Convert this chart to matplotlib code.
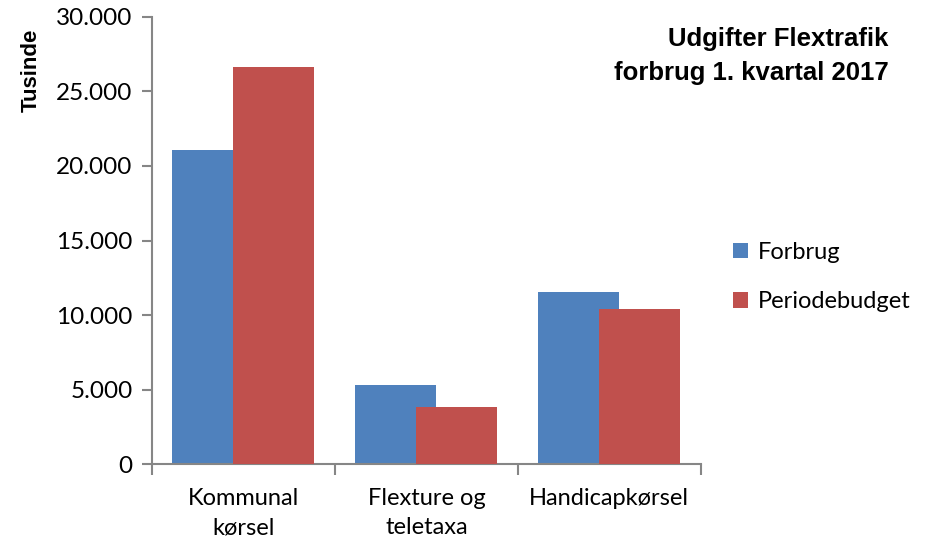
import matplotlib.pyplot as plt
import matplotlib.ticker as ticker
import numpy as np

categories = ["Kommunal\nkørsel", "Flexture og\nteletaxa", "Handicapkørsel"]
forbrug = [21100, 5340, 11550]
periodebudget = [26650, 3840, 10390]
series_names = ["Forbrug", "Periodebudget"]

blue = "#4F81BD"
red = "#C0504D"
axis_grey = "#868686"
tick_font = "Lato"

fig = plt.figure(figsize=(9.47, 5.48), dpi=100)
ax = fig.add_axes([0.1605, 0.1527, 0.5795, 0.8168])

x = np.arange(len(categories))
width = 0.443
shift = 0.333
ax.bar(x - shift / 2, forbrug, width, color=blue, label=series_names[0], zorder=2)
ax.bar(x + shift / 2, periodebudget, width, color=red, label=series_names[1], zorder=3)

ax.set_xlim(-0.5, len(categories) - 0.5)
ax.set_ylim(0, 30000)
ax.set_yticks(np.arange(0, 30001, 5000))
ax.yaxis.set_major_formatter(ticker.FuncFormatter(lambda v, p: f"{int(v):,}".replace(",", ".")))

# category labels in the middle, ticks on the boundaries
ax.set_xticks(np.arange(-0.5, len(categories)), minor=False)
ax.set_xticklabels([])
ax.set_xticks(x, minor=True)
ax.set_xticklabels(categories, minor=True, fontsize=17, family=tick_font, linespacing=1.5)
ax.tick_params(axis="x", which="minor", length=0, pad=17)
ax.tick_params(axis="x", which="major", length=8, width=1.5, color=axis_grey, direction="out")
ax.tick_params(axis="y", length=7, width=1.5, color=axis_grey, direction="out", pad=7)
for lbl in ax.get_yticklabels():
    lbl.set_fontsize(17.5)
    lbl.set_family(tick_font)

for side in ["top", "right"]:
    ax.spines[side].set_visible(False)
for side in ["left", "bottom"]:
    ax.spines[side].set_color(axis_grey)
    ax.spines[side].set_linewidth(1.5)

fig.text(0.033, 0.872, "Tusinde", rotation=90, ha="center", va="center",
         fontsize=16, fontweight="bold", family="Liberation Sans")
fig.text(0.938, 0.898, "Udgifter Flextrafik\nforbrug 1. kvartal 2017", ha="right", va="center",
         fontsize=18.5, fontweight="bold", family="Liberation Sans", linespacing=1.55)

ax.legend(loc="center left", bbox_to_anchor=(1.02, 0.418), frameon=False,
          prop={"family": tick_font, "size": 17}, handlelength=0.62, handleheight=0.62,
          handletextpad=0.45, labelspacing=1.2)

fig.savefig("out.png", dpi=100)
